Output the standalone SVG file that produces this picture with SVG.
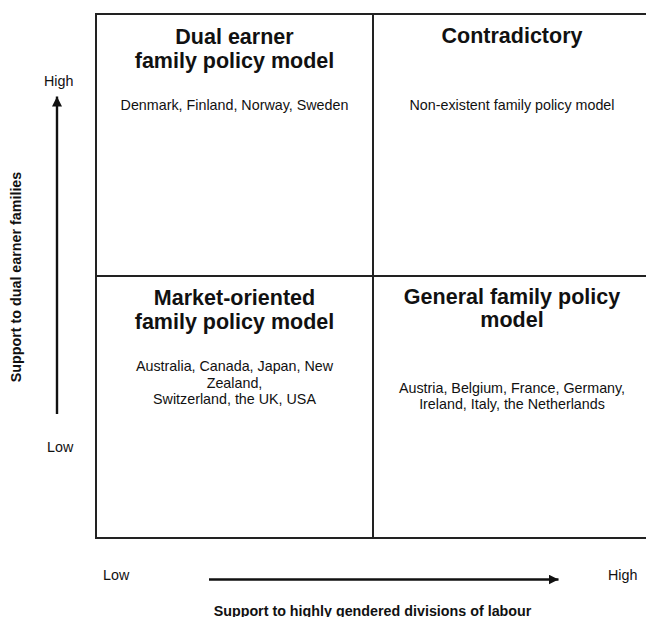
<svg xmlns="http://www.w3.org/2000/svg" width="646" height="617" viewBox="0 0 646 617">
  <style>
    .frame { fill: none; stroke: #222; stroke-width: 2; }
    .axis { fill: none; stroke: #111; stroke-width: 2.4; }
    .title { font-family: "Liberation Sans", Arial, sans-serif; font-size: 21.5px; font-weight: bold; fill: #111; text-anchor: middle; }
    .body { font-family: "Liberation Sans", Arial, sans-serif; font-size: 14.3px; fill: #111; text-anchor: middle; }
    .tick { font-family: "Liberation Sans", Arial, sans-serif; font-size: 14.3px; fill: #111; }
    .axislabel { font-family: "Liberation Sans", Arial, sans-serif; font-size: 14.3px; font-weight: bold; fill: #111; text-anchor: middle; }
  </style>
  <defs>
    <marker id="head" viewBox="0 0 10 10" refX="10" refY="5" markerWidth="10" markerHeight="10" markerUnits="userSpaceOnUse" orient="auto">
      <path d="M0,0 L10,5 L0,10 Z" fill="#111"/>
    </marker>
  </defs>
  <rect width="646" height="617" fill="#fff"/>

  <!-- quadrant frame -->
  <g id="frame">
    <rect class="frame" x="96" y="14" width="554" height="524"/>
    <line class="frame" x1="373" y1="14" x2="373" y2="538"/>
    <line class="frame" x1="96" y1="276" x2="650" y2="276"/>
  </g>

  <g id="dual-earner">
    <text class="title" x="234.5" y="43.5">Dual earner</text>
    <text class="title" x="234.5" y="67.5">family policy model</text>
    <text class="body" x="234.5" y="110">Denmark, Finland, Norway, Sweden</text>
  </g>

  <g id="contradictory">
    <text class="title" x="512" y="42.5">Contradictory</text>
    <text class="body" x="512" y="110">Non-existent family policy model</text>
  </g>

  <g id="market-oriented">
    <text class="title" x="234.5" y="304.5">Market-oriented</text>
    <text class="title" x="234.5" y="328.5">family policy model</text>
    <text class="body" x="234.5" y="371">Australia, Canada, Japan, New</text>
    <text class="body" x="234.5" y="387.5">Zealand,</text>
    <text class="body" x="234.5" y="404">Switzerland, the UK, USA</text>
  </g>

  <g id="general">
    <text class="title" x="512" y="303.5">General family policy</text>
    <text class="title" x="512" y="327">model</text>
    <text class="body" x="512" y="392.5">Austria, Belgium, France, Germany,</text>
    <text class="body" x="512" y="409">Ireland, Italy, the Netherlands</text>
  </g>

  <!-- axes -->
  <g id="connectors">
    <line class="axis" x1="57" y1="414" x2="57" y2="96.5" marker-end="url(#head)"/>
    <line class="axis" x1="209" y1="579.5" x2="558.5" y2="579.5" marker-end="url(#head)"/>
  </g>

  <g id="y-axis-labels">
    <text class="tick" x="44" y="86">High</text>
    <text class="tick" x="47" y="452">Low</text>
    <text class="axislabel" transform="translate(21,277) rotate(-90)">Support to dual earner families</text>
  </g>

  <g id="x-axis-labels">
    <text class="tick" x="103" y="580">Low</text>
    <text class="tick" x="608" y="580">High</text>
    <text class="axislabel" x="372.5" y="615.5">Support to highly gendered divisions of labour</text>
  </g>
</svg>
